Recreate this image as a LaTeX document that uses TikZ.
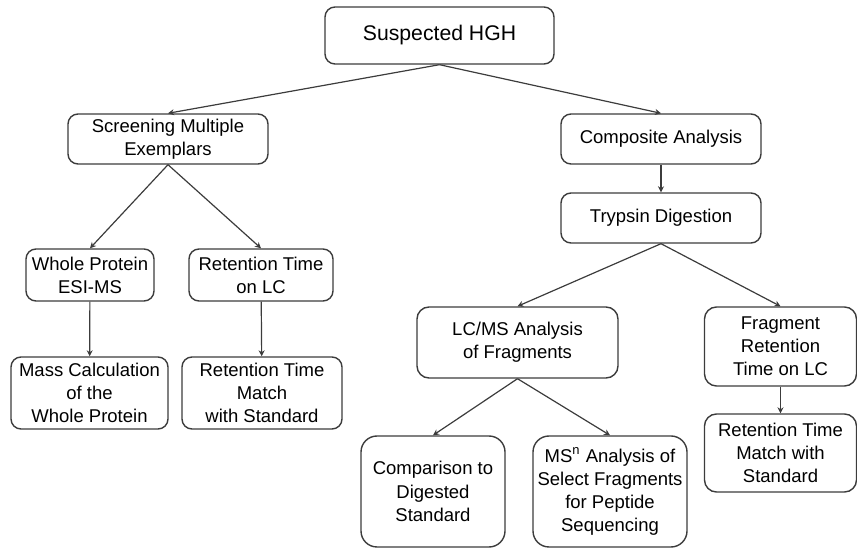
\documentclass[tikz,border=0pt]{standalone}
\usepackage{fontspec}
\setmainfont{Liberation Sans}
\usetikzlibrary{arrows.meta}
\definecolor{edgegray}{RGB}{60,60,60}

\begin{document}
\begin{tikzpicture}[
      x=0.5pt, y=-0.5pt,
      box/.style={draw=edgegray, line width=0.7pt, rounded corners=5pt,
        font=\fontsize{9.25}{11.6}\selectfont, align=center, inner sep=0pt},
      arr/.style={-{Stealth[length=3pt, width=3pt]}, line width=0.6pt, edgegray}
    ]
      \useasboundingbox (0,0) rectangle (857,549);

      \node[box, minimum width=114.5pt, minimum height=28.5pt,
        font=\fontsize{10.6}{12}\selectfont] (hgh) at (439.5,35.5) {Suspected HGH};
      \node[box, minimum width=100pt, minimum height=25pt] (screen) at (168,139) {Screening Multiple\\Exemplars};
      \node[box, minimum width=100pt, minimum height=25pt] (comp) at (661,139) {Composite Analysis};
      \node[box, minimum width=100pt, minimum height=25pt] (tryp) at (661,218) {Trypsin Digestion};
      \node[box, minimum width=64pt, minimum height=26pt] (whole) at (90,275) {Whole Protein\\ESI-MS};
      \node[box, minimum width=72pt, minimum height=26pt] (rtlc) at (261,275) {Retention Time\\on LC};
      \node[box, minimum width=78.5pt, minimum height=36pt] (mass) at (89.5,393) {Mass Calculation\\of the\\Whole Protein};
      \node[box, minimum width=80pt, minimum height=36pt] (rtmatch) at (262,393) {Retention Time\\Match\\with Standard};
      \node[box, minimum width=100.5pt, minimum height=35.5pt, rounded corners=6pt] (lcms) at (517.5,342.5) {LC/MS Analysis\\of Fragments};
      \node[box, minimum width=76pt, minimum height=39.5pt, rounded corners=6pt] (frag) at (780.5,346.5) {Fragment\\Retention\\Time on LC};
      \node[box, minimum width=76pt, minimum height=39pt, rounded corners=6pt] (rtfrag) at (780.5,453) {Retention Time\\Match with\\Standard};
      \node[box, minimum width=72pt, minimum height=55.5pt, rounded corners=8pt] (cmpstd) at (433,491.5) {Comparison to\\Digested\\Standard};
      \node[box, minimum width=77pt, minimum height=55.5pt, rounded corners=8pt] (msn) at (610,491.5) {MS\textsuperscript{n} Analysis of\\Select Fragments\\for Peptide\\Sequencing};

      % tree edges
      \draw[arr] (hgh.south) -- (screen.north);
      \draw[arr] (hgh.south) -- (comp.north);
      \draw[arr] (comp) -- (tryp);
      \draw[arr] (screen.south) -- (whole.north);
      \draw[arr] (screen.south) -- (rtlc.north);
      \draw[arr] (whole) -- (mass);
      \draw[arr] (rtlc) -- (rtmatch);
      \draw[arr] (tryp.south) -- (lcms.north);
      \draw[arr] (tryp.south) -- (frag.north);
      \draw[arr] (lcms.south) -- (cmpstd.north);
      \draw[arr] (lcms.south) -- (msn.north);
      \draw[arr] (frag) -- (rtfrag);
    \end{tikzpicture}
\end{document}
